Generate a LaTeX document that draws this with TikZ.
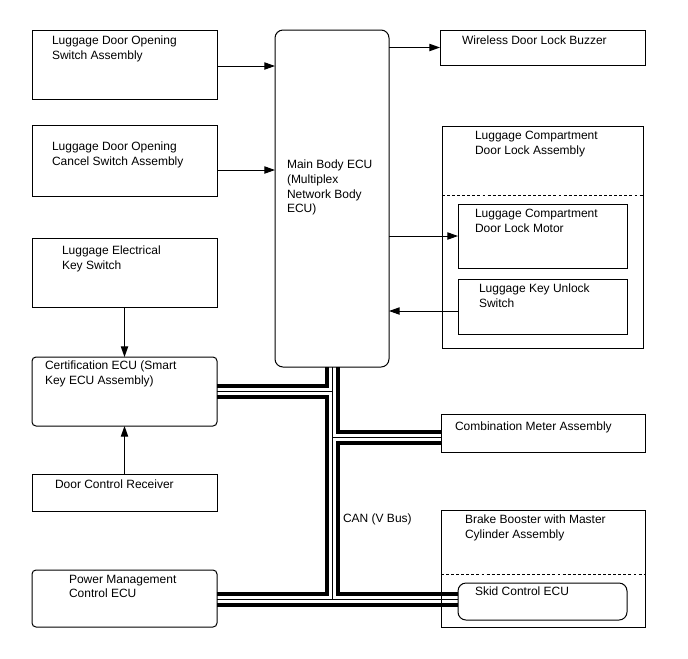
\documentclass[tikz,border=0pt]{standalone}
\usepackage{fontspec}
\setmainfont{Liberation Sans}
\usetikzlibrary{arrows.meta}
\newcommand\mkbox[6]{%
  \pgfmathsetmacro\bxw{(#4-#2)*0.75}%
  \pgfmathsetmacro\bxh{(#5-#3)*0.75}%
  \node[#6, minimum width=\bxw pt, minimum height=\bxh pt] (#1) at ({(#2+#4)/2},{(#3+#5)/2}) {};}
\begin{document}
\begin{tikzpicture}[x=0.75pt,y=-0.75pt,
  bx/.style={draw, line width=0.75pt, inner sep=0pt, outer sep=0pt, rectangle},
  rbx/.style={bx, rounded corners=#1},
  lbl/.style={anchor=north west, inner sep=0pt, outer sep=0pt, align=left,
    font=\fontsize{9}{11}\selectfont},
  arr/.style={line width=0.75pt, -{Triangle[length=8pt,width=5.5pt]}},
  bus/.style={line width=2.4pt, line join=miter},
  busthin/.style={line width=0.75pt},
  dsh/.style={line width=0.75pt, dash pattern=on 2.2pt off 1.6pt}]
\useasboundingbox (0,0) rectangle (688,658);
% left boxes
\mkbox{b1}{32}{30}{217}{99}{bx}
\mkbox{b2}{32}{125}{217}{196}{bx}
\mkbox{b3}{32}{238}{217}{307}{bx}
\mkbox{cert}{32}{357}{217}{426}{rbx=3pt}
\mkbox{dcr}{32}{474}{217}{511}{bx}
\mkbox{pm}{32}{570}{217}{627}{rbx=3pt}
% main ECU
\mkbox{ecu}{275}{30}{389}{367}{rbx=6pt}
% right boxes
\mkbox{buz}{440}{30}{645}{65}{bx}
\mkbox{lcda}{442}{126}{643}{348}{bx}
\mkbox{mot}{458}{204}{627}{268}{bx}
\mkbox{kus}{458}{279}{627}{334}{bx}
\mkbox{cmb}{441}{414}{645}{452}{bx}
\mkbox{bbm}{441}{510}{645}{627}{bx}
\mkbox{skid}{458}{583}{627}{620}{rbx=6pt}
% dashed separators
\draw[dsh] (lcda.west |- 0,195) -- (lcda.east |- 0,195);
\draw[dsh] (bbm.west |- 0,574) -- (bbm.east |- 0,574);
% texts
\node[lbl] (t1) at (52,36) {Luggage Door Opening\\Switch Assembly};
\node[lbl] (t2) at (52,142) {Luggage Door Opening\\Cancel Switch Assembly};
\node[lbl] (t3) at (62,246) {Luggage Electrical\\Key Switch};
\node[lbl] (t4) at (45,361) {Certification ECU (Smart\\Key ECU Assembly)};
\node[lbl] (t5) at (55,480) {Door Control Receiver};
\node[lbl] (t6) at (69,575) {Power Management\\Control ECU};
\node[lbl] (t7) at (287,160) {Main Body ECU\\(Multiplex\\Network Body\\ECU)};
\node[lbl] (t8) at (462,36) {Wireless Door Lock Buzzer};
\node[lbl] (t9) at (475,131) {Luggage Compartment\\Door Lock Assembly};
\node[lbl] (t10) at (475,209) {Luggage Compartment\\Door Lock Motor};
\node[lbl] (t11) at (479,284) {Luggage Key Unlock\\Switch};
\node[lbl] (t12) at (455,422) {Combination Meter Assembly};
\node[lbl] (t13) at (465,515) {Brake Booster with Master\\Cylinder Assembly};
\node[lbl] (t14) at (475,587) {Skid Control ECU};
\node[lbl] (t15) at (343,514) {CAN (V Bus)};
% arrows
\draw[arr] (b1.east |- 0,66) -- (ecu.west |- 0,66);
\draw[arr] (b2.east |- 0,170) -- (ecu.west |- 0,170);
\draw[arr] (b3.south) -- (cert.north);
\draw[arr] (dcr.north) -- (cert.south);
\draw[arr] (ecu.east |- buz.west) -- (buz.west);
\draw[arr] (ecu.east |- mot.west) -- (mot.west);
\draw[arr] (kus.west |- 0,311) -- (ecu.east |- 0,311);
% bus
\coordinate (tl) at (327,0);
\coordinate (tm) at (332.5,0);
\coordinate (tr) at (338,0);
\draw[bus] (ecu.south -| tl) |- (cert.east |- 0,386);
\draw[bus] (cert.east |- 0,397) -| (tl |- 0,594) -- (pm.east |- 0,594);
\draw[bus] (ecu.south -| tr) |- (cmb.west |- 0,432);
\draw[bus] (cmb.west |- 0,443) -| (tr |- 0,594) -- (skid.west |- 0,594);
\draw[bus] (pm.east |- 0,605) -- (skid.west |- 0,605);
\draw[busthin] (ecu.south -| tm) -- (tm |- 0,599);
\draw[busthin] (cert.east |- 0,391.5) -- (tm |- 0,391.5);
\draw[busthin] (tm |- 0,437.5) -- (cmb.west |- 0,437.5);
\draw[busthin] (pm.east |- 0,599.5) -- (skid.west |- 0,599.5);
\end{tikzpicture}
\end{document}
